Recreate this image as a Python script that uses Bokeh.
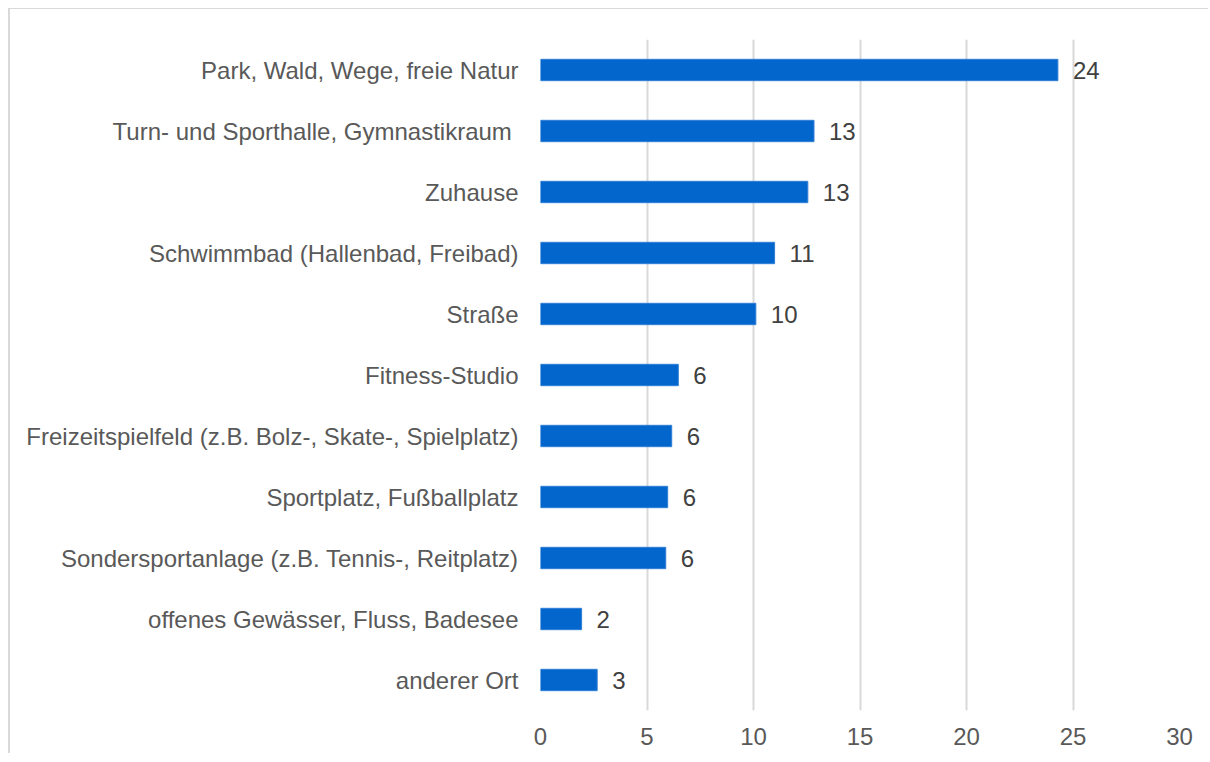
from bokeh.plotting import figure
from bokeh.models import ColumnDataSource, FactorRange, FixedTicker
from bokeh.core.properties import value
from bokeh.embed import file_html
from bokeh.resources import INLINE

categories = [
    "Park, Wald, Wege, freie Natur",
    "Turn- und Sporthalle, Gymnastikraum ",
    "Zuhause",
    "Schwimmbad (Hallenbad, Freibad)",
    "Straße",
    "Fitness-Studio",
    "Freizeitspielfeld (z.B. Bolz-, Skate-, Spielplatz)",
    "Sportplatz, Fußballplatz",
    "Sondersportanlage (z.B. Tennis-, Reitplatz)",
    "offenes Gewässer, Fluss, Badesee",
    "anderer Ort",
]
values = [24.29, 12.84, 12.55, 10.99, 10.11, 6.47, 6.16, 5.97, 5.88, 1.93, 2.66]
value_labels = ["24", "13", "13", "11", "10", "6", "6", "6", "6", "2", "3"]
x_ticks = [0, 5, 10, 15, 20, 25, 30]

FONT = "Liberation Sans"

src = ColumnDataSource(dict(cat=categories, val=values, lab=value_labels))

p = figure(
    width=1200, height=745,
    y_range=FactorRange(factors=categories[::-1]),
    x_range=(0, 30),
    output_backend="svg", toolbar_location=None,
    min_border_left=530, min_border_right=31,
    min_border_top=30, min_border_bottom=44,
)
p.styles = {
    "margin-left": "8px", "margin-top": "8px",
    "border-top": "1px solid #d9d9d9", "border-left": "2px solid #d9d9d9",
}
p.outline_line_color = None
p.background_fill_color = "white"
p.border_fill_color = "white"

p.hbar(y="cat", right="val", left=0, height=0.35, source=src,
       fill_color="#0366CC", line_color="#2f7fd6", line_width=1)

p.text(x="val", y="cat", text="lab", source=src, x_offset=15,
       text_align="left", text_baseline="middle",
       text_font=value(FONT), text_font_size="24px", text_color="#404040")

p.xaxis.ticker = FixedTicker(ticks=x_ticks)
p.xaxis.axis_line_color = None
p.xaxis.major_tick_line_color = None
p.xaxis.minor_tick_line_color = None
p.xaxis.major_label_standoff = 11
p.xaxis.major_label_text_font = FONT
p.xaxis.major_label_text_font_size = "24px"
p.xaxis.major_label_text_color = "#595959"

p.yaxis.axis_line_color = None
p.yaxis.major_tick_line_color = None
p.yaxis.minor_tick_line_color = None
p.yaxis.major_label_standoff = 16
p.yaxis.major_label_text_font = FONT
p.yaxis.major_label_text_font_size = "24px"
p.yaxis.major_label_text_color = "#595959"

p.ygrid.grid_line_color = None
p.xgrid.grid_line_color = "#d9d9d9"
p.xgrid.grid_line_width = 2

open("out.html", "w").write(file_html(p, INLINE))
